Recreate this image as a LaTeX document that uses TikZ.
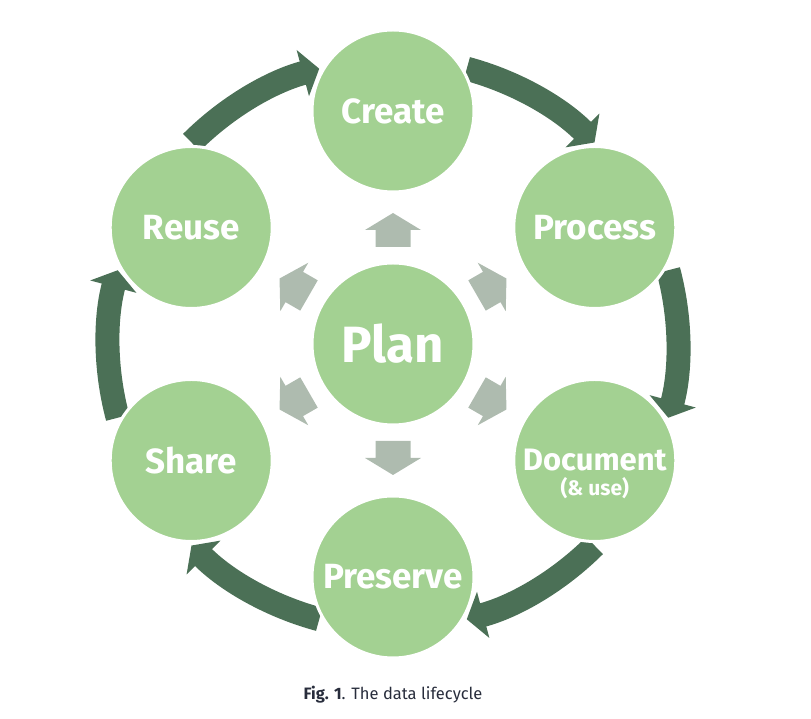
\documentclass[tikz,border=0pt]{standalone}
\usepackage{fontspec}
\setmainfont{Fira Sans}
\usepackage{xcolor}
\usetikzlibrary{arrows.meta, positioning, calc, backgrounds}
\definecolor{LeafGreen}{RGB}{163,209,146}
\definecolor{ForestGreen}{RGB}{75,112,86}
\definecolor{SageGray}{RGB}{174,187,175}
\definecolor{CaptionInk}{RGB}{40,45,60}

\begin{document}
\begin{tikzpicture}[x=1pt, y=1pt,
  stage/.style={circle, fill=LeafGreen, draw=white, line width=3pt,
    minimum size=162pt, inner sep=0pt, text=white,
    font=\fontsize{35}{38}\selectfont\bfseries},
  cyclearrow/.style={ForestGreen, line width=24pt,
    -{Triangle[width=47pt,length=17pt]}},
]
\useasboundingbox (0,0) rectangle (811,719);
\def\R{233}
\def\A{285}

% Plan in the middle
\node[stage, font=\fontsize{51}{53}\selectfont\bfseries] (plan) at (393,375) {Plan};

% Stages round the cycle
\foreach \n/\a/\t in {create/90/Create, process/30/Process, preserve/-90/Preserve,
                      share/-150/Share, reuse/150/Reuse}{
  \node[stage] (\n) at ($(plan.center)+(\a:\R)$) {\t};
}
\node[stage, font=\fontsize{31}{33}\selectfont\bfseries] (document)
  at ($(plan.center)+(-30:\R)$) {Document};
\node[text=white, font=\fontsize{21}{23}\selectfont\bfseries] (docnote)
  at ($(document.center)+(0,-28)$) {(\&\ use)};

% Outer cycle arrows, behind the circles
\begin{scope}[on background layer]
\foreach \s in {60,0,-60,-120,180,120}{
  \draw[cyclearrow] ($(plan.center)+(\s+15:\A)$)
    arc[start angle=\s+15, end angle=\s-15, radius=\A];
}
\end{scope}

% Block arrows out of Plan
\foreach \a in {90,30,-30,-90,-150,150}{
  \fill[SageGray, shift={(plan.center)}, rotate=\a]
    (97,-17.5) -- (114,-17.5) -- (114,-28) -- (131,0) -- (114,28)
    -- (114,17.5) -- (97,17.5) -- cycle;
}

% Caption
\node[text=CaptionInk, font=\fontsize{16.5}{18}\selectfont] (caption) at (393,24)
  {\textbf{Fig. 1}. The data lifecycle};

\end{tikzpicture}
\end{document}
